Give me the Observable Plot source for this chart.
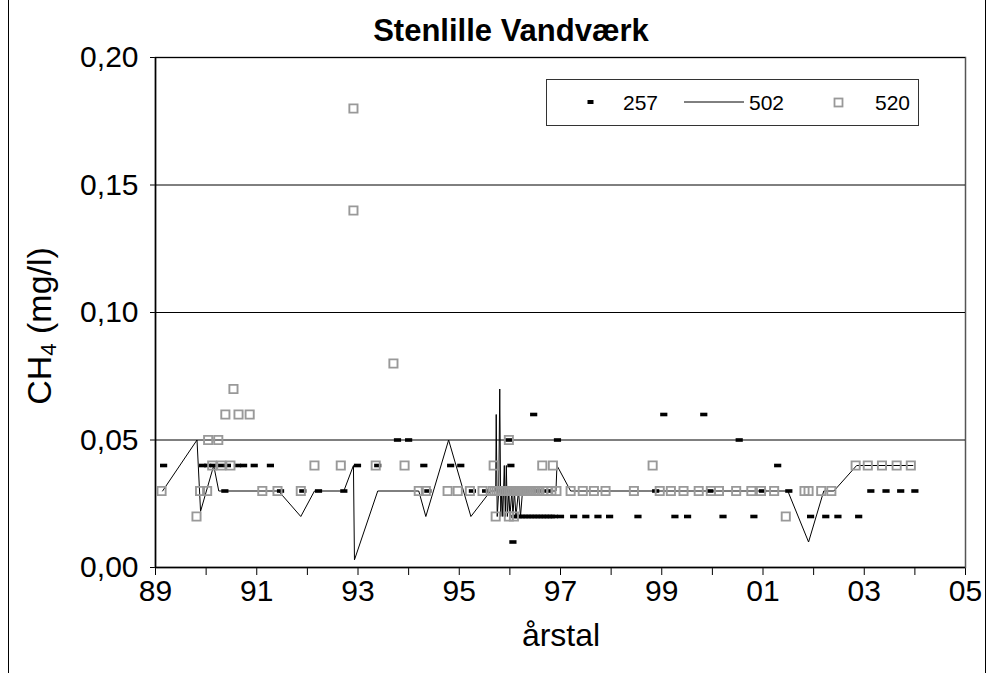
<!DOCTYPE html>
<html>
<head>
<meta charset="utf-8">
<script src="https://cdn.jsdelivr.net/npm/d3@7"></script>
<script src="https://cdn.jsdelivr.net/npm/@observablehq/plot@0.6"></script>
<style>
  html, body { margin: 0; padding: 0; background: white; }
  #wrap { position: relative; width: 988px; height: 673px; background: white; font-family: "Liberation Sans", Arial, sans-serif; overflow: hidden; }
  #wrap svg.plot { position: absolute; left: 0; top: 0; }
  .frameL { position: absolute; left: 8px; top: 0; width: 1px; height: 673px; background: #000; }
  .frameR { position: absolute; left: 985px; top: 0; width: 1px; height: 673px; background: #000; }
  #title { position: absolute; left: 511px; top: 13px; transform: translateX(-50%); font-weight: bold; font-size: 31px; white-space: nowrap; }
  #xlabel { position: absolute; left: 561px; top: 617px; transform: translateX(-50%); font-size: 32px; white-space: nowrap; }
  #ylabel { position: absolute; left: 41px; top: 326px; transform: translate(-50%, -50%) rotate(-90deg); font-size: 34px; white-space: nowrap; }
  #ylabel sub { font-size: 0.65em; vertical-align: -0.2em; }
  #legend { position: absolute; left: 546px; top: 79px; width: 371px; height: 45px; border: 1.5px solid #333; background: white; font-size: 21px; }
  #legend .item { position: absolute; top: 11px; }
  #legend svg { position: absolute; }
</style>
</head>
<body>
<div id="wrap">
  <div class="frameL"></div>
  <div class="frameR"></div>
  <div id="title">Stenlille Vandværk</div>
  <div id="xlabel">årstal</div>
  <div id="ylabel">CH<sub>4</sub> (mg/l)</div>
</div>
<script>
// ---- Data ----
const seriesNames = ["257", "502", "520"];

// Series 257 (black dash markers)
const years257 = [1989.16, 1989.93, 1990.03, 1990.15, 1990.28, 1990.42, 1990.62, 1990.74, 1990.95, 1991.27,
  1990.37, 1991.47, 1991.91, 1992.22, 1992.72, 1992.99, 1993.39, 1993.78, 1994.00, 1994.30,
  1994.38, 1994.83, 1995.03, 1995.26, 1995.52, 1995.98, 1996.02, 1996.06, 1996.47, 1996.94,
  1996.10, 1996.16, 1996.22, 1996.28, 1996.34, 1996.40, 1996.46, 1996.52, 1996.58, 1996.64,
  1996.70, 1996.76, 1996.82, 1996.88, 1997.00,
  1995.80, 1996.00, 1996.30, 1996.55, 1996.75,
  1997.26, 1997.50, 1997.74, 1997.97, 1998.53, 1998.88, 1999.04, 1999.26, 1999.51, 1999.83,
  1999.95, 2000.21, 2000.53, 2000.82, 2000.99, 2001.29, 2001.51, 2001.94, 2002.24, 2002.48,
  2002.89, 2003.13, 2003.43, 2003.72, 2004.00];
const ch4_257 = [0.04, 0.04, 0.04, 0.04, 0.04, 0.04, 0.04, 0.04, 0.04, 0.04,
  0.03, 0.03, 0.03, 0.03, 0.03, 0.04, 0.04, 0.05, 0.05, 0.04,
  0.03, 0.04, 0.04, 0.03, 0.03, 0.05, 0.04, 0.01, 0.06, 0.05,
  0.02, 0.02, 0.02, 0.02, 0.02, 0.02, 0.02, 0.02, 0.02, 0.02,
  0.02, 0.02, 0.02, 0.02, 0.02,
  0.03, 0.03, 0.03, 0.03, 0.03,
  0.02, 0.02, 0.02, 0.02, 0.02, 0.03, 0.06, 0.02, 0.02, 0.06,
  0.03, 0.02, 0.05, 0.02, 0.03, 0.04, 0.03, 0.02, 0.02, 0.02,
  0.02, 0.03, 0.03, 0.03, 0.03];

// Series 502 (thin black line)
const years502 = [1989.14, 1989.82, 1989.89, 1990.15, 1990.25, 1991.43, 1991.87, 1992.14, 1992.72, 1992.91,
  1992.93, 1993.39, 1994.20, 1994.34, 1994.79, 1995.23, 1995.62, 1995.72, 1995.73, 1995.75,
  1995.78, 1995.80, 1995.82, 1995.84, 1995.86, 1995.89, 1995.91, 1995.93, 1995.95, 1995.98,
  1996.00, 1996.04, 1996.06, 1996.09, 1996.12, 1996.17, 1996.21, 1996.25, 1996.91, 1996.93,
  1997.20, 2001.49, 2001.90, 2002.20, 2002.40, 2002.85, 2003.96];
const ch4_502 = [0.03, 0.05, 0.022, 0.04, 0.03, 0.03, 0.02, 0.03, 0.03, 0.04,
  0.003, 0.03, 0.03, 0.02, 0.05, 0.02, 0.03, 0.03, 0.06, 0.02,
  0.03, 0.07, 0.02, 0.03, 0.02, 0.04, 0.02, 0.04, 0.02, 0.03,
  0.02, 0.03, 0.02, 0.03, 0.02, 0.03, 0.02, 0.03, 0.03, 0.04,
  0.03, 0.03, 0.01, 0.03, 0.03, 0.04, 0.04];

// Series 520 (grey open squares)
const years520 = [1989.12, 1989.88, 1990.02, 1991.11, 1991.41, 1991.87, 1994.20, 1994.34, 1994.77, 1994.97,
  1995.21, 1995.46,
  1995.66, 1995.70, 1995.74, 1995.78, 1995.82, 1995.86, 1995.90, 1995.94, 1995.98, 1996.02,
  1996.06, 1996.10, 1996.14, 1996.18, 1996.22, 1996.26, 1996.30, 1996.34, 1996.38, 1996.42,
  1996.46, 1996.50, 1996.54, 1996.58, 1996.66, 1996.74, 1996.82, 1996.92,
  1997.20, 1997.44, 1997.66, 1997.89, 1998.45, 1998.96, 1999.18, 1999.43, 1999.73, 1999.97,
  2000.13, 2000.47, 2000.77, 2000.96, 2001.22, 2001.82, 2001.90, 2002.15, 2002.35,
  1989.81, 1995.72, 1995.98, 1996.08, 2001.45,
  1990.12, 1990.30, 1990.48, 1992.14, 1992.66, 1993.35, 1993.92, 1995.68, 1996.64, 1996.85,
  1998.82, 2002.83, 2003.07, 2003.35, 2003.64, 2003.92,
  1990.04, 1990.24, 1995.98,
  1990.38, 1990.64, 1990.86, 1990.54, 1993.70, 1992.91, 1992.91];
const ch4_520 = [0.03, 0.03, 0.03, 0.03, 0.03, 0.03, 0.03, 0.03, 0.03, 0.03,
  0.03, 0.03,
  0.03, 0.03, 0.03, 0.03, 0.03, 0.03, 0.03, 0.03, 0.03, 0.03,
  0.03, 0.03, 0.03, 0.03, 0.03, 0.03, 0.03, 0.03, 0.03, 0.03,
  0.03, 0.03, 0.03, 0.03, 0.03, 0.03, 0.03, 0.03,
  0.03, 0.03, 0.03, 0.03, 0.03, 0.03, 0.03, 0.03, 0.03, 0.03,
  0.03, 0.03, 0.03, 0.03, 0.03, 0.03, 0.03, 0.03, 0.03,
  0.02, 0.02, 0.02, 0.02, 0.02,
  0.04, 0.04, 0.04, 0.04, 0.04, 0.04, 0.04, 0.04, 0.04, 0.04,
  0.04, 0.04, 0.04, 0.04, 0.04, 0.04,
  0.05, 0.05, 0.05,
  0.06, 0.06, 0.06, 0.07, 0.08, 0.14, 0.18];

const xTicks = [1989, 1990, 1991, 1992, 1993, 1994, 1995, 1996, 1997, 1998, 1999, 2000, 2001, 2002, 2003, 2004, 2005];
const yTicks = [0, 0.05, 0.10, 0.15, 0.20];
const gridLines = [0.05, 0.10, 0.15, 0.20];

// ---- Build tables ----
const d257 = years257.map((x, i) => ({x, y: ch4_257[i]}));
const d502 = years502.map((x, i) => ({x, y: ch4_502[i]}));
const d520 = years520.map((x, i) => ({x, y: ch4_520[i]}));

const dashSymbol = {
  draw(ctx) {
    ctx.moveTo(-3.6, -1.8); ctx.lineTo(3.6, -1.8); ctx.lineTo(3.6, 1.8); ctx.lineTo(-3.6, 1.8); ctx.closePath();
  }
};

const chart = Plot.plot({
  width: 988,
  height: 673,
  marginLeft: 155,
  marginRight: 23,
  marginTop: 57,
  marginBottom: 106,
  style: {fontFamily: "'Liberation Sans', Arial, sans-serif", fontSize: "30px", color: "black", background: "transparent", overflow: "visible"},
  x: {domain: [1989, 2005], ticks: xTicks, tickFormat: d => (d % 2 === 1 ? String(d % 100).padStart(2, "0") : ""), tickSize: 8, tickPadding: 4, label: null},
  y: {domain: [0, 0.2], ticks: yTicks, tickFormat: d => d.toFixed(2).replace(".", ","), tickSize: 5, tickPadding: 12, label: null},
  marks: [
    Plot.frame({stroke: "#555", strokeWidth: 1.5}),
    Plot.ruleY(gridLines, {stroke: "black", strokeWidth: 1}),
    Plot.ruleX([1989], {stroke: "black", strokeWidth: 1.5}),
    Plot.ruleY([0], {stroke: "black", strokeWidth: 1.5}),
    Plot.dot(d257, {x: "x", y: "y", symbol: dashSymbol, fill: "black", stroke: "none", r: 3}),
    Plot.line(d502, {x: "x", y: "y", stroke: "black", strokeWidth: 1}),
    Plot.dot(d520, {x: "x", y: "y", symbol: "square", fill: "none", stroke: "#999", strokeWidth: 1.9, r: 4.6})
  ]
});
chart.classList.add("plot");
const wrap = document.getElementById("wrap");
wrap.insertBefore(chart, document.getElementById("title"));

// ---- Legend ----
const legend = document.createElement("div");
legend.id = "legend";
legend.innerHTML = `
  <svg style="left:40px;top:19px" width="8" height="6"><rect x="0.5" y="1" width="6" height="4" fill="black"/></svg>
  <div class="item" style="left:76px">${seriesNames[0]}</div>
  <svg style="left:137px;top:20px" width="62" height="4"><line x1="0" x2="60" y1="2" y2="2" stroke="black" stroke-width="1"/></svg>
  <div class="item" style="left:202px">${seriesNames[1]}</div>
  <svg style="left:286px;top:17px" width="12" height="12"><rect x="1.5" y="1.5" width="8" height="8" fill="none" stroke="#999" stroke-width="1.8"/></svg>
  <div class="item" style="left:328px">${seriesNames[2]}</div>`;
wrap.appendChild(legend);
</script>
</body>
</html>
